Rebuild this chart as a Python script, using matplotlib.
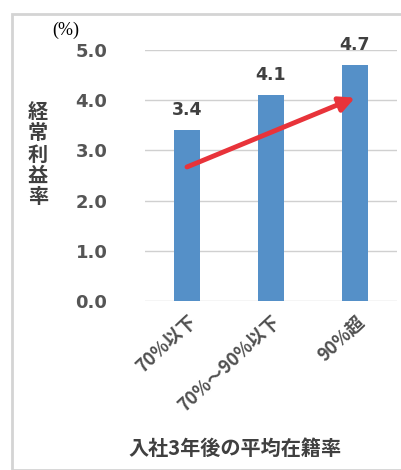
import matplotlib.pyplot as plt
from matplotlib.patches import Rectangle

plt.rcParams['font.family'] = ['Noto Sans CJK JP', 'DejaVu Sans']

# 入社3年後の平均在籍率別の経常利益率
categories = ['70%以下', '70%～90%以下', '90%超']
values = [3.4, 4.1, 4.7]
trend_start = (0, 2.67)
trend_end = (2.0, 4.05)

bar_color = '#5590c8'
text_gray = '#404040'

fig = plt.figure(figsize=(4.01, 4.70), dpi=100)
fig.patches.append(Rectangle((12 / 401, 0), 1, 1 - 14 / 470, transform=fig.transFigure,
                             fill=False, edgecolor='#d4d4d4', linewidth=2, zorder=0))

ax = fig.add_axes([145 / 401, 169 / 470, 252 / 401, 251 / 470])
x = range(len(categories))
ax.bar(x, values, width=0.31, color=bar_color, zorder=2)
ax.set_xlim(-0.5, 2.5)
ax.set_ylim(0, 5.0)
ax.set_yticks([0, 1, 2, 3, 4, 5])
ax.set_yticklabels([f'{v:.1f}' for v in [0, 1, 2, 3, 4, 5]],
                   fontsize=13, fontweight='bold', color='#555555', family='DejaVu Sans')
ax.tick_params(axis='y', length=0, pad=27)
ax.tick_params(axis='x', length=0, pad=8)
ax.set_xticks(list(x))
ax.set_xticklabels(categories, rotation=43, ha='right', va='top', rotation_mode='anchor',
                   fontsize=13, fontweight='bold', color='#505050')
ax.grid(axis='y', color='#d0d0d0', linewidth=1, zorder=0)
for s in ax.spines.values():
    s.set_visible(False)

# 値ラベル
for xi, v in zip(x, values):
    ax.text(xi, v + 0.22, f'{v:.1f}', ha='center', va='bottom', fontsize=12.5,
            fontweight='bold', color=text_gray, family='DejaVu Sans')

# 上昇傾向の矢印
ax.annotate('', xy=trend_end, xytext=trend_start,
            arrowprops=dict(arrowstyle='-|>,head_length=0.9,head_width=0.45',
                            color='#e8333a', linewidth=3.5, shrinkA=0, shrinkB=0), zorder=3)

fig.text(52 / 401, 1 - 30 / 470, '(%)', fontsize=13, family='Liberation Serif',
         color='black', ha='left', va='center')
fig.text(38 / 401, 1 - 154 / 470, '\n'.join('経常利益率'), fontsize=14.5, fontweight='bold',
         color=text_gray, ha='center', va='center', linespacing=1.02)
fig.text(235 / 401, 1 - 448 / 470, '入社3年後の平均在籍率', fontsize=14.5, fontweight='bold',
         color=text_gray, ha='center', va='center')

fig.savefig('out.png', dpi=100)
